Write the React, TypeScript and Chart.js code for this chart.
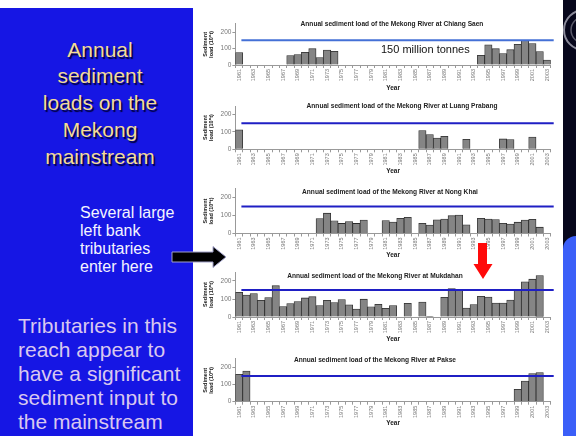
import React, { useEffect, useRef } from "react";
import { Chart, registerables } from "chart.js";

Chart.register(...registerables);

const FONT = 'Arial, "Liberation Sans", Helvetica, sans-serif';
Chart.defaults.font.family = FONT;

// ---------- DATA ----------
const years = [
  "1961", "1962", "1963", "1964", "1965", "1966", "1967", "1968", "1969", "1970",
  "1971", "1972", "1973", "1974", "1975", "1976", "1977", "1978", "1979", "1980",
  "1981", "1982", "1983", "1984", "1985", "1986", "1987", "1988", "1989", "1990",
  "1991", "1992", "1993", "1994", "1995", "1996", "1997", "1998", "1999", "2000",
  "2001", "2002", "2003",
];

const shownYears = [
  "1961", "1963", "1965", "1967", "1969", "1971", "1973", "1975", "1977", "1979", "1981",
  "1983", "1985", "1987", "1989", "1991", "1993", "1995", "1997", "1999", "2001", "2003",
];

const yTicks = [0, 50, 100, 150, 200, 250];
const threshold = 150;

const chiangSaen = [
  75, null, null, null, null, null, null,
  57, 63, 77, 99, 45, 91, 83,
  null, null, null, null, null, null, null, null, null, null,
  null, null, null, null, null, null, null, null, null,
  59, 122, 99, 69, 93, 126, 150, 130, 81, 30,
];

const luangPrabang = [
  112,
  null, null, null, null, null, null, null, null, null, null, null, null,
  null, null, null, null, null, null, null, null, null, null, null, null,
  108, 85, 65, 75,
  null, null,
  58,
  null, null, null, null,
  60, 56,
  null, null,
  71,
  null, null,
];

const nongKhai = [
  null, null, null, null, null, null, null, null, null, null, null,
  83, 113, 71, 56, 66, 56, 75,
  null, null,
  72, 64, 84, 90,
  null,
  57, 47, 76, 80, 99, 103, 48,
  null,
  84, 80, 78, 57, 53, 63, 75, 79, 35,
  null,
];

const mukdahan = [
  137, 122, 130, 93, 108, 174, 58, 75, 86, 106, 113, 64, 93, 80, 97, 68, 44, 99, 57, 71, 48, 64,
  null, 76, null, 83, 4, null,
  109, 158, 152, 50, 69, 115, 111, 78, 78, 94, 152, 195, 210, 230,
  null,
];

const pakse = [
  160, 179,
  null, null, null, null, null, null, null, null, null, null, null, null,
  null, null, null, null, null, null, null, null, null, null, null, null,
  null, null, null, null, null, null, null, null, null, null, null, null,
  72, 121, 164, 170,
  null,
];

const chartTitles = [
  "Annual sediment load of the Mekong River at Chiang Saen",
  "Annual sediment load of the Mekong River at Luang Prabang",
  "Annual sediment load of the Mekong River at Nong Khai",
  "Annual sediment load of the Mekong River at Mukdahan",
  "Annual sediment load of the Mekong River at Pakse",
];

const seriesList = [chiangSaen, luangPrabang, nongKhai, mukdahan, pakse];

// ---------- LAYOUT ----------
const PANEL_LEFT = 193;
const PANEL_RIGHT = 563;
const PLOT_LEFT = 235.4;
const PLOT_RIGHT = 550.7;

const layouts = [
  { plotTop: 23.8, plotBottom: 65, yearY: 87.7, titleX: 392, titleY: 24, lineColor: "#4470d6" },
  { plotTop: 106, plotBottom: 149.3, yearY: 171, titleX: 402, titleY: 106, lineColor: "#1f1fc4" },
  { plotTop: 188.5, plotBottom: 233.5, yearY: 255, titleX: 390, titleY: 191.7, lineColor: "#1f1fc4" },
  { plotTop: 272, plotBottom: 317, yearY: 339, titleX: 375, titleY: 275.7, lineColor: "#1f1fc4" },
  { plotTop: 358.9, plotBottom: 401.7, yearY: 423, titleX: 375, titleY: 360, lineColor: "#1f1fc4" },
];

function MiniChart({ values, layout }: { values: (number | null)[]; layout: any }) {
  const ref = useRef<HTMLCanvasElement>(null);
  const canvasTop = Math.floor(layout.plotTop - 5);
  const padTop = layout.plotTop - canvasTop;
  const canvasBottom = layout.yearY + 3.9;
  const height = Math.ceil(canvasBottom - canvasTop);
  const xH = canvasTop + height - layout.plotBottom;
  const width = PANEL_RIGHT - PANEL_LEFT;

  useEffect(() => {
    if (!ref.current) return;
    const thresholdPlugin = {
      id: "thresholdLine",
      afterDatasetsDraw(chart: any) {
        const { ctx, chartArea, scales } = chart;
        const y = scales.y.getPixelForValue(threshold);
        ctx.save();
        ctx.strokeStyle = layout.lineColor;
        ctx.lineWidth = 2;
        ctx.beginPath();
        ctx.moveTo(chartArea.left + 6, y);
        ctx.lineTo(chartArea.right + 3, y);
        ctx.stroke();
        ctx.restore();
      },
    };
    const chart = new Chart(ref.current, {
      type: "bar",
      data: {
        labels: years,
        datasets: [
          {
            data: values,
            backgroundColor: "#858585",
            borderColor: "#2b2b2b",
            borderWidth: 0.8,
            barPercentage: 1,
            categoryPercentage: 1,
          },
        ],
      },
      options: {
        responsive: false,
        animation: false,
        devicePixelRatio: 1,
        layout: { padding: { top: padTop, right: PANEL_RIGHT - PLOT_RIGHT, left: 0, bottom: 0 } },
        plugins: {
          legend: { display: false },
          tooltip: { enabled: false },
          title: { display: false },
        },
        scales: {
          x: {
            grid: { display: true, drawOnChartArea: false, tickLength: 3, color: "#999", offset: true },
            border: { color: "#999" },
            ticks: {
              autoSkip: false,
              minRotation: 90,
              maxRotation: 90,
              padding: 1,
              color: "#777",
              font: { size: 5.5 },
              callback: (_v: any, i: number) => (shownYears.includes(years[i]) ? years[i] : ""),
            },
            title: {
              display: true,
              text: "Year",
              color: "#222",
              font: { size: 6.5, weight: "bold", lineHeight: 1.2 },
              padding: 0,
            },
            afterFit: (s: any) => {
              s.height = xH;
            },
          },
          y: {
            min: yTicks[0],
            max: yTicks[yTicks.length - 1],
            afterBuildTicks: (s: any) => {
              s.ticks = yTicks.map((v) => ({ value: v }));
            },
            ticks: { color: "#777", font: { size: 6.5 }, padding: 1 },
            grid: { display: true, drawOnChartArea: false, tickLength: 3, color: "#999" },
            border: { color: "#999" },
            title: {
              display: true,
              text: ["Sediment", "load (10\u2076t)"],
              color: "#222",
              font: { size: 5.5, weight: "bold", lineHeight: 1.15 },
              padding: { top: 9, bottom: 0 },
            },
            afterFit: (s: any) => {
              s.width = PLOT_LEFT - PANEL_LEFT;
            },
          },
        },
      } as any,
      plugins: [thresholdPlugin],
    });
    return () => chart.destroy();
  }, [values, layout]);

  return (
    <canvas
      ref={ref}
      width={width}
      height={height}
      style={{ position: "absolute", left: PANEL_LEFT, top: canvasTop, width, height }}
    />
  );
}

export default function App() {
  return (
    <div
      style={{
        position: "fixed",
        left: 0,
        top: 0,
        width: 576,
        height: 436,
        overflow: "hidden",
        background: "#ffffff",
        fontFamily: FONT,
      }}
    >
      {/* left blue panel */}
      <div style={{ position: "absolute", left: 0, top: 8, width: PANEL_LEFT, height: 428, background: "#1616e4" }} />
      {/* right edge */}
      <div style={{ position: "absolute", left: PANEL_RIGHT, top: 0, width: 576 - PANEL_RIGHT, height: 250, background: "#07071c" }} />
      <div
        style={{
          position: "absolute",
          left: PANEL_RIGHT,
          top: 236,
          width: 576 - PANEL_RIGHT,
          height: 200,
          background: "#3b5ff8",
          borderTopLeftRadius: 14,
        }}
      />
      <svg width={576} height={436} style={{ position: "absolute", left: 0, top: 0, pointerEvents: "none" }}>
        <circle cx={584} cy={30} r={20} fill="none" stroke="#8a8a9a" strokeWidth={2} />
        <circle cx={584} cy={30} r={13} fill="none" stroke="#5a5a6a" strokeWidth={1.5} />
      </svg>

      {/* left texts */}
      <div
        style={{
          position: "absolute",
          left: 0,
          top: 36.6,
          width: 200,
          textAlign: "center",
          fontSize: 21,
          lineHeight: "26.8px",
          color: "#f3dc96",
          textShadow: "1.5px 1.5px 1px #00003a",
        }}
      >
        Annual
        <br />
        sediment
        <br />
        loads on the
        <br />
        Mekong
        <br />
        mainstream
      </div>
      <div
        style={{
          position: "absolute",
          left: 80,
          top: 204,
          fontSize: 16,
          lineHeight: "18px",
          color: "#f4f4ff",
          whiteSpace: "nowrap",
        }}
      >
        Several large
        <br />
        left bank
        <br />
        tributaries
        <br />
        enter here
      </div>
      <div
        style={{
          position: "absolute",
          left: 18,
          top: 314,
          fontSize: 21,
          lineHeight: "24px",
          color: "#d9c8ef",
          whiteSpace: "nowrap",
        }}
      >
        Tributaries in this
        <br />
        reach appear to
        <br />
        have a significant
        <br />
        sediment input to
        <br />
        the mainstream
      </div>

      {/* charts */}
      {seriesList.map((vals, i) => (
        <MiniChart key={i} values={vals} layout={layouts[i]} />
      ))}

      {/* chart titles */}
      {chartTitles.map((t, i) => (
        <div
          key={t}
          style={{
            position: "absolute",
            left: layouts[i].titleX - 150,
            top: layouts[i].titleY - 4,
            width: 300,
            textAlign: "center",
            fontSize: 6.6,
            lineHeight: "8px",
            fontWeight: "bold",
            color: "#222",
            whiteSpace: "nowrap",
          }}
        >
          {t}
        </div>
      ))}

      <div
        style={{
          position: "absolute",
          left: 381,
          top: 43,
          fontSize: 11,
          lineHeight: "13px",
          color: "#111",
          whiteSpace: "nowrap",
        }}
      >
        150 million tonnes
      </div>

      {/* arrows */}
      <svg width={576} height={436} style={{ position: "absolute", left: 0, top: 0, pointerEvents: "none" }}>
        <polygon
          points="172,252 213,252 213,246.5 226,257 213,267.5 213,262 172,262"
          fill="#000"
          stroke="#a0a0c8"
          strokeWidth={1}
        />
        <polygon points="478,243 487,243 487,264 492.5,264 483,279 473.5,264 478,264" fill="#ff0a0a" />
      </svg>
    </div>
  );
}
